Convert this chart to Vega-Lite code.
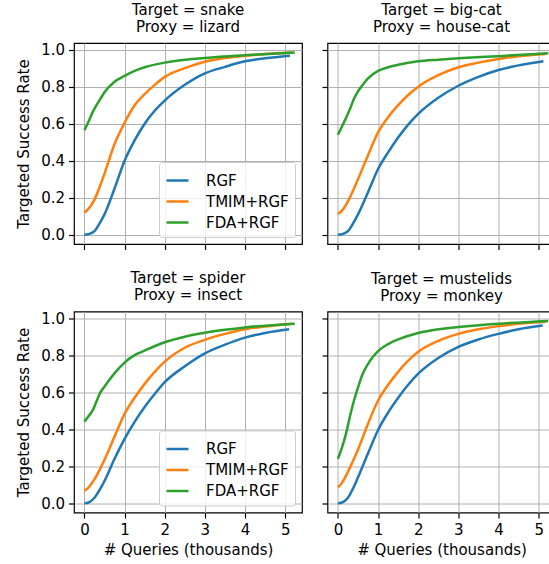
{
  "$schema": "https://vega.github.io/schema/vega-lite/v6.json",
  "padding": {"left": 15, "top": 2, "right": 0, "bottom": 0},
  "background": "white",
  "datasets": {
    "d": [
      {"p":"snake","m":"RGF","q":0,"r":0},{"p":"snake","m":"RGF","q":0.1,"r":0.003},{"p":"snake","m":"RGF","q":0.25,"r":0.02},{"p":"snake","m":"RGF","q":0.4,"r":0.07},{"p":"snake","m":"RGF","q":0.5,"r":0.11},{"p":"snake","m":"RGF","q":0.75,"r":0.25},{"p":"snake","m":"RGF","q":1,"r":0.4},{"p":"snake","m":"RGF","q":1.25,"r":0.51},{"p":"snake","m":"RGF","q":1.5,"r":0.6},{"p":"snake","m":"RGF","q":1.75,"r":0.67},{"p":"snake","m":"RGF","q":2,"r":0.725},{"p":"snake","m":"RGF","q":2.5,"r":0.81},{"p":"snake","m":"RGF","q":3,"r":0.872},{"p":"snake","m":"RGF","q":3.5,"r":0.907},{"p":"snake","m":"RGF","q":4,"r":0.937},{"p":"snake","m":"RGF","q":4.5,"r":0.953},{"p":"snake","m":"RGF","q":5.12,"r":0.967},
      {"p":"snake","m":"TMIM+RGF","q":0,"r":0.12},{"p":"snake","m":"TMIM+RGF","q":0.1,"r":0.14},{"p":"snake","m":"TMIM+RGF","q":0.25,"r":0.19},{"p":"snake","m":"TMIM+RGF","q":0.4,"r":0.27},{"p":"snake","m":"TMIM+RGF","q":0.5,"r":0.33},{"p":"snake","m":"TMIM+RGF","q":0.75,"r":0.49},{"p":"snake","m":"TMIM+RGF","q":1,"r":0.605},{"p":"snake","m":"TMIM+RGF","q":1.25,"r":0.7},{"p":"snake","m":"TMIM+RGF","q":1.5,"r":0.76},{"p":"snake","m":"TMIM+RGF","q":1.75,"r":0.81},{"p":"snake","m":"TMIM+RGF","q":2,"r":0.853},{"p":"snake","m":"TMIM+RGF","q":2.5,"r":0.9},{"p":"snake","m":"TMIM+RGF","q":3,"r":0.935},{"p":"snake","m":"TMIM+RGF","q":3.5,"r":0.955},{"p":"snake","m":"TMIM+RGF","q":4,"r":0.967},{"p":"snake","m":"TMIM+RGF","q":4.5,"r":0.977},{"p":"snake","m":"TMIM+RGF","q":5.18,"r":0.985},
      {"p":"snake","m":"FDA+RGF","q":0,"r":0.565},{"p":"snake","m":"FDA+RGF","q":0.1,"r":0.61},{"p":"snake","m":"FDA+RGF","q":0.2,"r":0.66},{"p":"snake","m":"FDA+RGF","q":0.3,"r":0.7},{"p":"snake","m":"FDA+RGF","q":0.4,"r":0.735},{"p":"snake","m":"FDA+RGF","q":0.5,"r":0.77},{"p":"snake","m":"FDA+RGF","q":0.75,"r":0.827},{"p":"snake","m":"FDA+RGF","q":1,"r":0.858},{"p":"snake","m":"FDA+RGF","q":1.25,"r":0.885},{"p":"snake","m":"FDA+RGF","q":1.5,"r":0.905},{"p":"snake","m":"FDA+RGF","q":2,"r":0.93},{"p":"snake","m":"FDA+RGF","q":2.5,"r":0.945},{"p":"snake","m":"FDA+RGF","q":3,"r":0.955},{"p":"snake","m":"FDA+RGF","q":4,"r":0.97},{"p":"snake","m":"FDA+RGF","q":5.24,"r":0.985},

      {"p":"bigcat","m":"RGF","q":0,"r":0},{"p":"bigcat","m":"RGF","q":0.1,"r":0.003},{"p":"bigcat","m":"RGF","q":0.25,"r":0.02},{"p":"bigcat","m":"RGF","q":0.4,"r":0.07},{"p":"bigcat","m":"RGF","q":0.5,"r":0.11},{"p":"bigcat","m":"RGF","q":0.75,"r":0.23},{"p":"bigcat","m":"RGF","q":1,"r":0.355},{"p":"bigcat","m":"RGF","q":1.25,"r":0.445},{"p":"bigcat","m":"RGF","q":1.5,"r":0.525},{"p":"bigcat","m":"RGF","q":1.75,"r":0.595},{"p":"bigcat","m":"RGF","q":2,"r":0.653},{"p":"bigcat","m":"RGF","q":2.5,"r":0.74},{"p":"bigcat","m":"RGF","q":3,"r":0.805},{"p":"bigcat","m":"RGF","q":3.5,"r":0.853},{"p":"bigcat","m":"RGF","q":4,"r":0.89},{"p":"bigcat","m":"RGF","q":4.5,"r":0.915},{"p":"bigcat","m":"RGF","q":5.12,"r":0.937},
      {"p":"bigcat","m":"TMIM+RGF","q":0,"r":0.112},{"p":"bigcat","m":"TMIM+RGF","q":0.1,"r":0.13},{"p":"bigcat","m":"TMIM+RGF","q":0.25,"r":0.18},{"p":"bigcat","m":"TMIM+RGF","q":0.4,"r":0.25},{"p":"bigcat","m":"TMIM+RGF","q":0.5,"r":0.3},{"p":"bigcat","m":"TMIM+RGF","q":0.75,"r":0.43},{"p":"bigcat","m":"TMIM+RGF","q":1,"r":0.553},{"p":"bigcat","m":"TMIM+RGF","q":1.25,"r":0.635},{"p":"bigcat","m":"TMIM+RGF","q":1.5,"r":0.7},{"p":"bigcat","m":"TMIM+RGF","q":1.75,"r":0.755},{"p":"bigcat","m":"TMIM+RGF","q":2,"r":0.8},{"p":"bigcat","m":"TMIM+RGF","q":2.5,"r":0.862},{"p":"bigcat","m":"TMIM+RGF","q":3,"r":0.905},{"p":"bigcat","m":"TMIM+RGF","q":3.5,"r":0.93},{"p":"bigcat","m":"TMIM+RGF","q":4,"r":0.95},{"p":"bigcat","m":"TMIM+RGF","q":4.5,"r":0.965},{"p":"bigcat","m":"TMIM+RGF","q":5.18,"r":0.977},
      {"p":"bigcat","m":"FDA+RGF","q":0,"r":0.54},{"p":"bigcat","m":"FDA+RGF","q":0.1,"r":0.585},{"p":"bigcat","m":"FDA+RGF","q":0.2,"r":0.63},{"p":"bigcat","m":"FDA+RGF","q":0.3,"r":0.68},{"p":"bigcat","m":"FDA+RGF","q":0.4,"r":0.735},{"p":"bigcat","m":"FDA+RGF","q":0.5,"r":0.775},{"p":"bigcat","m":"FDA+RGF","q":0.6,"r":0.805},{"p":"bigcat","m":"FDA+RGF","q":0.75,"r":0.845},{"p":"bigcat","m":"FDA+RGF","q":1,"r":0.885},{"p":"bigcat","m":"FDA+RGF","q":1.25,"r":0.905},{"p":"bigcat","m":"FDA+RGF","q":1.5,"r":0.918},{"p":"bigcat","m":"FDA+RGF","q":2,"r":0.937},{"p":"bigcat","m":"FDA+RGF","q":2.5,"r":0.946},{"p":"bigcat","m":"FDA+RGF","q":3,"r":0.953},{"p":"bigcat","m":"FDA+RGF","q":4,"r":0.965},{"p":"bigcat","m":"FDA+RGF","q":5.24,"r":0.98},

      {"p":"spider","m":"RGF","q":0,"r":0},{"p":"spider","m":"RGF","q":0.1,"r":0.004},{"p":"spider","m":"RGF","q":0.25,"r":0.03},{"p":"spider","m":"RGF","q":0.4,"r":0.08},{"p":"spider","m":"RGF","q":0.5,"r":0.12},{"p":"spider","m":"RGF","q":0.75,"r":0.24},{"p":"spider","m":"RGF","q":1,"r":0.348},{"p":"spider","m":"RGF","q":1.25,"r":0.44},{"p":"spider","m":"RGF","q":1.5,"r":0.52},{"p":"spider","m":"RGF","q":1.75,"r":0.59},{"p":"spider","m":"RGF","q":2,"r":0.654},{"p":"spider","m":"RGF","q":2.5,"r":0.74},{"p":"spider","m":"RGF","q":3,"r":0.81},{"p":"spider","m":"RGF","q":3.5,"r":0.857},{"p":"spider","m":"RGF","q":4,"r":0.895},{"p":"spider","m":"RGF","q":4.5,"r":0.92},{"p":"spider","m":"RGF","q":5.1,"r":0.94},
      {"p":"spider","m":"TMIM+RGF","q":0,"r":0.068},{"p":"spider","m":"TMIM+RGF","q":0.1,"r":0.085},{"p":"spider","m":"TMIM+RGF","q":0.25,"r":0.13},{"p":"spider","m":"TMIM+RGF","q":0.4,"r":0.19},{"p":"spider","m":"TMIM+RGF","q":0.5,"r":0.235},{"p":"spider","m":"TMIM+RGF","q":0.75,"r":0.36},{"p":"spider","m":"TMIM+RGF","q":1,"r":0.483},{"p":"spider","m":"TMIM+RGF","q":1.25,"r":0.57},{"p":"spider","m":"TMIM+RGF","q":1.5,"r":0.645},{"p":"spider","m":"TMIM+RGF","q":1.75,"r":0.71},{"p":"spider","m":"TMIM+RGF","q":2,"r":0.765},{"p":"spider","m":"TMIM+RGF","q":2.5,"r":0.84},{"p":"spider","m":"TMIM+RGF","q":3,"r":0.883},{"p":"spider","m":"TMIM+RGF","q":3.5,"r":0.915},{"p":"spider","m":"TMIM+RGF","q":4,"r":0.94},{"p":"spider","m":"TMIM+RGF","q":4.5,"r":0.955},{"p":"spider","m":"TMIM+RGF","q":5.18,"r":0.97},
      {"p":"spider","m":"FDA+RGF","q":0,"r":0.441},{"p":"spider","m":"FDA+RGF","q":0.1,"r":0.47},{"p":"spider","m":"FDA+RGF","q":0.2,"r":0.5},{"p":"spider","m":"FDA+RGF","q":0.3,"r":0.55},{"p":"spider","m":"FDA+RGF","q":0.4,"r":0.6},{"p":"spider","m":"FDA+RGF","q":0.5,"r":0.63},{"p":"spider","m":"FDA+RGF","q":0.6,"r":0.66},{"p":"spider","m":"FDA+RGF","q":0.8,"r":0.715},{"p":"spider","m":"FDA+RGF","q":1,"r":0.76},{"p":"spider","m":"FDA+RGF","q":1.25,"r":0.8},{"p":"spider","m":"FDA+RGF","q":1.5,"r":0.825},{"p":"spider","m":"FDA+RGF","q":2,"r":0.87},{"p":"spider","m":"FDA+RGF","q":2.5,"r":0.9},{"p":"spider","m":"FDA+RGF","q":3,"r":0.921},{"p":"spider","m":"FDA+RGF","q":3.5,"r":0.937},{"p":"spider","m":"FDA+RGF","q":4,"r":0.95},{"p":"spider","m":"FDA+RGF","q":5.24,"r":0.97},

      {"p":"mustelids","m":"RGF","q":0,"r":0},{"p":"mustelids","m":"RGF","q":0.1,"r":0.004},{"p":"mustelids","m":"RGF","q":0.25,"r":0.03},{"p":"mustelids","m":"RGF","q":0.4,"r":0.09},{"p":"mustelids","m":"RGF","q":0.5,"r":0.14},{"p":"mustelids","m":"RGF","q":0.75,"r":0.27},{"p":"mustelids","m":"RGF","q":1,"r":0.396},{"p":"mustelids","m":"RGF","q":1.25,"r":0.49},{"p":"mustelids","m":"RGF","q":1.5,"r":0.57},{"p":"mustelids","m":"RGF","q":1.75,"r":0.64},{"p":"mustelids","m":"RGF","q":2,"r":0.7},{"p":"mustelids","m":"RGF","q":2.5,"r":0.785},{"p":"mustelids","m":"RGF","q":3,"r":0.845},{"p":"mustelids","m":"RGF","q":3.5,"r":0.885},{"p":"mustelids","m":"RGF","q":4,"r":0.915},{"p":"mustelids","m":"RGF","q":4.5,"r":0.94},{"p":"mustelids","m":"RGF","q":5.1,"r":0.96},
      {"p":"mustelids","m":"TMIM+RGF","q":0,"r":0.086},{"p":"mustelids","m":"TMIM+RGF","q":0.1,"r":0.11},{"p":"mustelids","m":"TMIM+RGF","q":0.25,"r":0.17},{"p":"mustelids","m":"TMIM+RGF","q":0.4,"r":0.24},{"p":"mustelids","m":"TMIM+RGF","q":0.5,"r":0.29},{"p":"mustelids","m":"TMIM+RGF","q":0.75,"r":0.43},{"p":"mustelids","m":"TMIM+RGF","q":1,"r":0.555},{"p":"mustelids","m":"TMIM+RGF","q":1.25,"r":0.64},{"p":"mustelids","m":"TMIM+RGF","q":1.5,"r":0.71},{"p":"mustelids","m":"TMIM+RGF","q":1.75,"r":0.77},{"p":"mustelids","m":"TMIM+RGF","q":2,"r":0.818},{"p":"mustelids","m":"TMIM+RGF","q":2.5,"r":0.877},{"p":"mustelids","m":"TMIM+RGF","q":3,"r":0.915},{"p":"mustelids","m":"TMIM+RGF","q":3.5,"r":0.94},{"p":"mustelids","m":"TMIM+RGF","q":4,"r":0.957},{"p":"mustelids","m":"TMIM+RGF","q":4.5,"r":0.97},{"p":"mustelids","m":"TMIM+RGF","q":5.18,"r":0.98},
      {"p":"mustelids","m":"FDA+RGF","q":0,"r":0.24},{"p":"mustelids","m":"FDA+RGF","q":0.1,"r":0.3},{"p":"mustelids","m":"FDA+RGF","q":0.2,"r":0.375},{"p":"mustelids","m":"FDA+RGF","q":0.3,"r":0.47},{"p":"mustelids","m":"FDA+RGF","q":0.4,"r":0.555},{"p":"mustelids","m":"FDA+RGF","q":0.5,"r":0.625},{"p":"mustelids","m":"FDA+RGF","q":0.6,"r":0.69},{"p":"mustelids","m":"FDA+RGF","q":0.8,"r":0.77},{"p":"mustelids","m":"FDA+RGF","q":1,"r":0.822},{"p":"mustelids","m":"FDA+RGF","q":1.25,"r":0.86},{"p":"mustelids","m":"FDA+RGF","q":1.5,"r":0.885},{"p":"mustelids","m":"FDA+RGF","q":2,"r":0.92},{"p":"mustelids","m":"FDA+RGF","q":2.5,"r":0.94},{"p":"mustelids","m":"FDA+RGF","q":3,"r":0.952},{"p":"mustelids","m":"FDA+RGF","q":4,"r":0.97},{"p":"mustelids","m":"FDA+RGF","q":5.24,"r":0.985}
    ]
  },
  "vconcat": [
    {
      "hconcat": [
        {
          "title": {"text": ["Target = snake", "Proxy = lizard"]},
          "width": 228, "height": 201,
          "data": {"name": "d"},
          "transform": [{"filter": "datum.p == 'snake'"}],
          "mark": {"type": "line", "strokeWidth": 2.5, "interpolate": "monotone"},
          "encoding": {
            "x": {"field": "q", "type": "quantitative", "scale": {"domain": [-0.26, 5.42], "nice": false, "zero": false}, "axis": {"values": [0,1,2,3,4,5], "labels": false, "title": null}},
            "y": {"field": "r", "type": "quantitative", "scale": {"domain": [-0.05, 1.036], "nice": false, "zero": false}, "axis": {"values": [0,0.2,0.4,0.6,0.8,1], "format": ".1f", "title": "Targeted Success Rate", "titlePadding": 9.5}},
            "color": {"field": "m", "type": "nominal", "scale": {"domain": ["RGF","TMIM+RGF","FDA+RGF"], "range": ["#1f77b4","#ff7f0e","#2ca02c"]}, "legend": {"orient": "bottom-right", "offset": 7}}
          }
        },
        {
          "title": {"text": ["Target = big-cat", "Proxy = house-cat"]},
          "width": 228, "height": 201,
          "data": {"name": "d"},
          "transform": [{"filter": "datum.p == 'bigcat'"}],
          "mark": {"type": "line", "strokeWidth": 2.5, "interpolate": "monotone"},
          "encoding": {
            "x": {"field": "q", "type": "quantitative", "scale": {"domain": [-0.26, 5.42], "nice": false, "zero": false}, "axis": {"values": [0,1,2,3,4,5], "labels": false, "title": null}},
            "y": {"field": "r", "type": "quantitative", "scale": {"domain": [-0.05, 1.036], "nice": false, "zero": false}, "axis": {"values": [0,0.2,0.4,0.6,0.8,1], "labels": false, "title": null}},
            "color": {"field": "m", "type": "nominal", "scale": {"domain": ["RGF","TMIM+RGF","FDA+RGF"], "range": ["#1f77b4","#ff7f0e","#2ca02c"]}, "legend": null}
          }
        }
      ],
      "spacing": 17.5,
      "resolve": {"scale": {"color": "independent"}, "legend": {"color": "independent"}}
    },
    {
      "hconcat": [
        {
          "title": {"text": ["Target = spider", "Proxy = insect"]},
          "width": 228, "height": 201,
          "data": {"name": "d"},
          "transform": [{"filter": "datum.p == 'spider'"}],
          "mark": {"type": "line", "strokeWidth": 2.5, "interpolate": "monotone"},
          "encoding": {
            "x": {"field": "q", "type": "quantitative", "scale": {"domain": [-0.26, 5.42], "nice": false, "zero": false}, "axis": {"values": [0,1,2,3,4,5], "format": "d", "title": "# Queries (thousands)", "titlePadding": 5}},
            "y": {"field": "r", "type": "quantitative", "scale": {"domain": [-0.05, 1.036], "nice": false, "zero": false}, "axis": {"values": [0,0.2,0.4,0.6,0.8,1], "format": ".1f", "title": "Targeted Success Rate", "titlePadding": 9.5}},
            "color": {"field": "m", "type": "nominal", "scale": {"domain": ["RGF","TMIM+RGF","FDA+RGF"], "range": ["#1f77b4","#ff7f0e","#2ca02c"]}, "legend": {"orient": "bottom-right", "offset": 7}}
          }
        },
        {
          "title": {"text": ["Target = mustelids", "Proxy = monkey"]},
          "width": 228, "height": 201,
          "data": {"name": "d"},
          "transform": [{"filter": "datum.p == 'mustelids'"}],
          "mark": {"type": "line", "strokeWidth": 2.5, "interpolate": "monotone"},
          "encoding": {
            "x": {"field": "q", "type": "quantitative", "scale": {"domain": [-0.26, 5.42], "nice": false, "zero": false}, "axis": {"values": [0,1,2,3,4,5], "format": "d", "title": "# Queries (thousands)", "titlePadding": 5}},
            "y": {"field": "r", "type": "quantitative", "scale": {"domain": [-0.05, 1.036], "nice": false, "zero": false}, "axis": {"values": [0,0.2,0.4,0.6,0.8,1], "labels": false, "title": null}},
            "color": {"field": "m", "type": "nominal", "scale": {"domain": ["RGF","TMIM+RGF","FDA+RGF"], "range": ["#1f77b4","#ff7f0e","#2ca02c"]}, "legend": null}
          }
        }
      ],
      "spacing": 17.5,
      "resolve": {"scale": {"color": "independent"}, "legend": {"color": "independent"}}
    }
  ],
  "resolve": {"scale": {"color": "independent"}, "legend": {"color": "independent"}},
  "spacing": 19.5,
  "config": {
    "font": "DejaVu Sans",
    "view": {"stroke": "black", "strokeWidth": 1.2},
    "axis": {
      "domain": false, "tickColor": "black", "tickSize": 5.5, "tickWidth": 1.2,
      "labelFont": "DejaVu Sans", "labelFontSize": 15, "labelColor": "black", "labelPadding": 4, "labelFlush": false, "labelOverlap": false,
      "titleFont": "DejaVu Sans", "titleFontSize": 15, "titleFontWeight": "normal", "titleColor": "black",
      "gridColor": "#b0b0b0", "gridWidth": 1, "gridOpacity": 1
    },
    "title": {"font": "DejaVu Sans", "fontSize": 15, "fontWeight": "normal", "color": "black", "offset": 8, "lineHeight": 17},
    "legend": {
      "title": null, "labelFont": "DejaVu Sans", "labelFontSize": 15, "labelColor": "black",
      "symbolType": "stroke", "symbolSize": 484, "symbolStrokeWidth": 2.5, "labelOffset": 16,
      "padding": 6, "rowPadding": -1.5, "strokeColor": "#cccccc", "fillColor": "rgba(255,255,255,0.8)", "cornerRadius": 3
    }
  }
}
